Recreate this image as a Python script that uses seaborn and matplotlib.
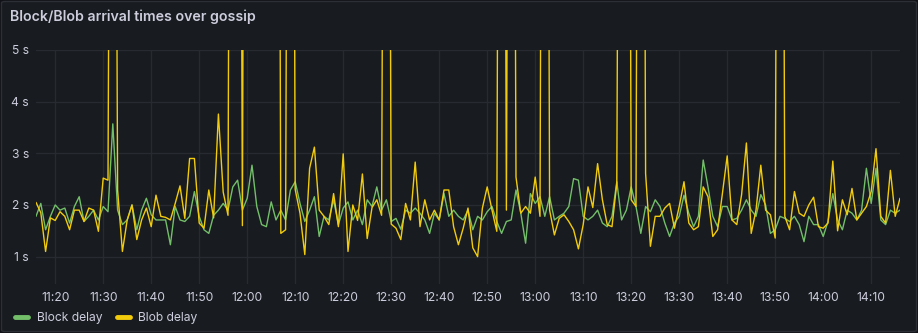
import matplotlib
matplotlib.use("Agg")
import matplotlib.pyplot as plt
import matplotlib.dates as mdates
from matplotlib.patches import FancyBboxPatch
from matplotlib.lines import Line2D
import pandas as pd
import seaborn as sns

# One sample per minute, 11:16 -> 14:16
start_time = "2024-01-01 11:16"
n_minutes = 181

block_delay = [
    1.78, 2.03, 1.52, 1.78, 2.00, 1.90, 1.94, 1.65, 1.97, 2.16,
    1.68, 1.78, 1.90, 1.71, 1.97, 1.87, 3.57, 1.90, 1.62, 1.71,
    2.00, 1.52, 1.90, 2.13, 1.81, 1.71, 1.71, 1.71, 1.23, 1.97,
    1.71, 1.68, 1.78, 2.26, 1.78, 1.52, 1.45, 1.80, 1.90, 2.03,
    1.90, 2.35, 2.48, 1.90, 2.13, 2.77, 1.97, 1.62, 1.58, 2.06,
    1.71, 1.90, 1.71, 2.29, 2.45, 2.03, 1.68, 1.90, 2.16, 1.39,
    1.78, 1.71, 2.10, 1.62, 1.94, 2.06, 1.71, 1.90, 1.62, 2.10,
    1.97, 2.35, 1.90, 2.10, 1.68, 1.74, 1.53, 1.90, 1.84, 1.94,
    1.84, 1.71, 1.45, 1.84, 1.71, 2.22, 1.78, 1.90, 1.78, 1.71,
    1.90, 1.52, 1.78, 1.71, 1.87, 1.97, 1.68, 1.45, 1.68, 1.71,
    2.29, 1.84, 1.26, 2.22, 2.03, 2.16, 1.78, 2.16, 1.71, 1.78,
    1.84, 1.97, 2.51, 2.48, 1.78, 1.71, 1.78, 1.90, 1.65, 1.58,
    1.78, 2.45, 1.71, 1.90, 2.35, 1.97, 1.45, 1.97, 1.87, 2.10,
    1.97, 1.65, 1.39, 1.65, 1.78, 2.19, 1.84, 1.58, 1.78, 2.87,
    2.35, 1.78, 1.58, 1.97, 1.97, 1.71, 1.74, 1.90, 2.10, 1.90,
    1.78, 2.20, 2.00, 1.45, 1.52, 1.78, 1.74, 1.68, 1.78, 1.62,
    1.29, 1.78, 1.62, 1.62, 1.39, 1.68, 2.22, 1.71, 1.52, 1.90,
    1.84, 1.71, 1.90, 2.71, 2.03, 2.71, 1.71, 1.62, 1.90, 1.84,
    1.90,
]

blob_delay = [
    2.05, 1.85, 1.10, 1.75, 1.70, 1.87, 1.78, 1.52, 1.90, 1.90,
    1.68, 1.94, 1.90, 1.49, 2.52, 2.48, 24.5, 2.29, 1.10, 1.71,
    2.00, 1.33, 1.71, 1.94, 1.58, 2.19, 1.78, 1.76, 1.71, 2.03,
    2.37, 1.74, 2.90, 2.90, 1.65, 1.55, 2.29, 1.75, 3.76, 2.25,
    1.80, 31.0, 30.0, 1.60, 33.0, 35.0, 34.0, 36.0, 32.0, 33.0,
    30.0, 1.45, 1.52, 28.0, 2.30, 1.84, 1.04, 2.71, 3.12, 1.90,
    1.78, 1.62, 2.22, 1.58, 2.99, 1.10, 2.00, 1.70, 2.60, 1.35,
    1.95, 2.10, 1.80, 26.0, 1.63, 1.55, 1.33, 2.03, 1.71, 2.83,
    1.58, 2.10, 1.71, 1.90, 1.71, 2.29, 2.29, 1.58, 1.23, 1.55,
    1.94, 1.17, 1.00, 1.94, 2.35, 1.90, 1.49, 29.0, 1.90, 27.0,
    2.54, 1.84, 1.97, 1.84, 2.54, 1.78, 31.0, 1.90, 1.42, 1.74,
    1.81, 1.68, 1.52, 1.15, 1.62, 2.35, 1.95, 2.80, 2.10, 1.62,
    1.58, 2.42, 25.0, 27.0, 2.10, 1.97, 30.0, 2.61, 1.20, 1.78,
    1.78, 1.94, 2.03, 1.55, 1.97, 2.45, 1.65, 1.52, 1.58, 2.35,
    2.16, 1.39, 1.52, 2.22, 2.95, 1.71, 1.62, 2.20, 3.20, 1.45,
    1.90, 2.77, 1.90, 1.81, 1.36, 28.0, 1.78, 1.52, 2.26, 1.84,
    1.78, 2.00, 2.15, 1.58, 1.55, 1.65, 2.85, 1.50, 2.10, 1.81,
    2.32, 1.71, 1.84, 1.97, 2.26, 3.09, 1.78, 1.65, 2.67, 1.78,
    2.13,
]

series_names = ["Block delay", "Blob delay"]
series_colors = ["#73bf69", "#f2cc0c"]
y_ticks = [1, 2, 3, 4, 5]

times = pd.date_range(start_time, periods=n_minutes, freq="min")
df = pd.concat([
    pd.DataFrame({"time": times, "delay": block_delay, "series": series_names[0]}),
    pd.DataFrame({"time": times, "delay": blob_delay, "series": series_names[1]}),
], ignore_index=True)

BG = "#181b1f"
TEXT = "#ccccdc"
GRID = "#272a30"

sns.set_style("dark")
plt.rcParams["font.family"] = ["Inter", "DejaVu Sans"]

W, H = 918, 333
fig = plt.figure(figsize=(W / 100, H / 100), dpi=100)
fig.patch.set_facecolor("#111217")
panel = FancyBboxPatch((1.5 / W, 1.5 / H), (W - 3) / W, (H - 3) / H,
                       boxstyle="round,pad=0,rounding_size=0.004",
                       transform=fig.transFigure, facecolor=BG,
                       edgecolor="#2c3036", linewidth=1.0, zorder=-5)
fig.patches.append(panel)

ax = fig.add_axes([36 / W, 1 - 284 / H, (900 - 36) / W, (284 - 50) / H])
ax.set_zorder(2)
ax.set_facecolor(BG)

sns.lineplot(data=df, x="time", y="delay", hue="series",
             palette=dict(zip(series_names, series_colors)),
             hue_order=series_names, estimator=None, linewidth=1.0,
             legend=False, ax=ax)

ax.set_ylim(0.47, 5.0)
ax.set_xlim(times[0], times[-1])
ax.set_yticks(y_ticks)
ax.set_yticklabels([f"{v} s" for v in y_ticks])
ax.xaxis.set_major_locator(mdates.MinuteLocator(byminute=range(0, 60, 10)))
ax.xaxis.set_major_formatter(mdates.DateFormatter("%H:%M"))
ax.set_xlabel("")
ax.set_ylabel("")
ax.grid(True, color=GRID, linewidth=1.0)
ax.tick_params(axis="both", length=0, colors=TEXT, labelsize=8.7)
ax.tick_params(axis="x", pad=6)
ax.tick_params(axis="y", pad=5)
for s in ax.spines.values():
    s.set_visible(False)

fig.text(10 / W, 1 - 17 / H, "Block/Blob arrival times over gossip",
         color=TEXT, fontsize=10.2, fontweight="semibold", va="center", ha="left")

handles = [Line2D([0], [0], color=c, linewidth=3.5, solid_capstyle="round")
           for c in series_colors]
fig.legend(handles, series_names, loc="center left",
           bbox_to_anchor=(15 / W, 1 - 318 / H), ncol=2, frameon=False,
           handlelength=1.1, handletextpad=0.7, columnspacing=1.2,
           fontsize=8.7, labelcolor=TEXT, borderaxespad=0, borderpad=0)

fig.savefig("out.png", dpi=100, facecolor=fig.get_facecolor())
